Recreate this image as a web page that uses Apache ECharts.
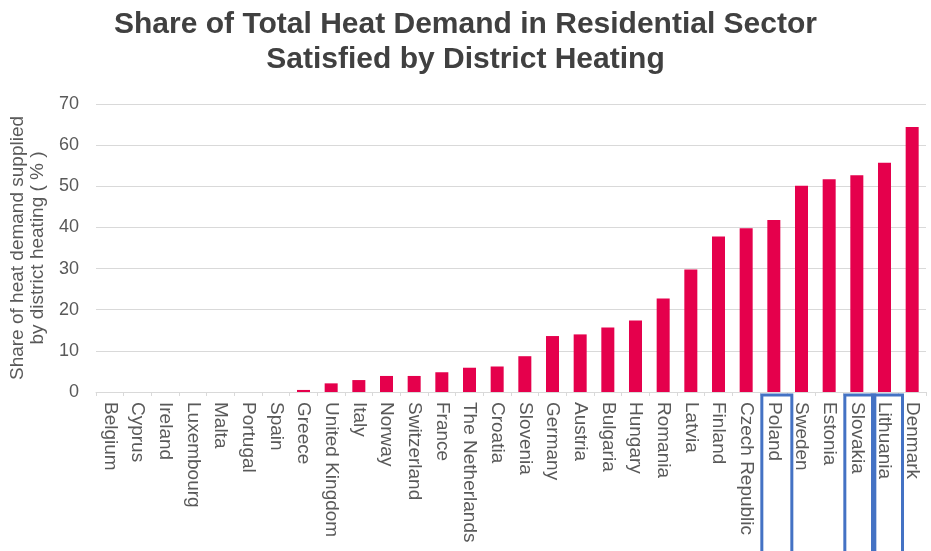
<!DOCTYPE html>
<html>
<head>
<meta charset="utf-8">
<script src="https://cdn.jsdelivr.net/npm/echarts@6/dist/echarts.min.js"></script>
<style>
html,body{margin:0;padding:0;background:#fff;}
#chart{width:931px;height:551px;}
</style>
</head>
<body>
<div id="chart"></div>
<script>
var titleText = 'Share of Total Heat Demand in Residential Sector\nSatisfied by District Heating';
var yAxisName = 'Share of heat demand supplied\nby district heating ( % )';
var countries = ['Belgium','Cyprus','Ireland','Luxembourg','Malta','Portugal','Spain','Greece','United Kingdom','Italy','Norway','Switzerland','France','The Netherlands','Croatia','Slovenia','Germany','Austria','Bulgaria','Hungary','Romania','Latvia','Finland','Czech Republic','Poland','Sweden','Estonia','Slovakia','Lithuania','Denmark'];
var shares = [0,0,0,0,0,0,0,0.5,2.1,2.9,3.9,3.9,4.8,5.9,6.2,8.7,13.6,14.0,15.7,17.4,22.7,29.8,37.8,39.8,41.8,50.1,51.7,52.7,55.7,64.4];
var yTicks = [0,10,20,30,40,50,60,70];
var highlighted = ['Poland','Slovakia','Lithuania'];

var chart = echarts.init(document.getElementById('chart'), null, {renderer:'canvas'});
var option = {
  animation: false,
  backgroundColor: '#ffffff',
  title: {
    text: titleText,
    left: 'center',
    top: 2,
    textStyle: {fontFamily: 'Liberation Sans, Arial, sans-serif', fontSize: 30, fontWeight: 'bold', color: '#404040', lineHeight: 35}
  },
  grid: {left: 96, right: 5, top: 104, bottom: 159, containLabel: false},
  xAxis: {
    type: 'category',
    data: countries,
    axisLine: {lineStyle: {color: '#d9d9d9', width: 1}},
    axisTick: {show: true, length: 4, lineStyle: {color: '#d9d9d9'}},
    axisLabel: {rotate: -90, interval: 0, margin: 10, fontSize: 19, color: '#595959', fontFamily: 'Liberation Sans, Arial, sans-serif'}
  },
  yAxis: {
    type: 'value',
    min: yTicks[0],
    max: yTicks[yTicks.length-1],
    interval: yTicks[1]-yTicks[0],
    name: yAxisName,
    nameLocation: 'middle',
    nameRotate: 90,
    nameGap: 48,
    nameTextStyle: {fontSize: 19, color: '#595959', lineHeight: 20, fontFamily: 'Liberation Sans, Arial, sans-serif'},
    axisLine: {show: false},
    axisTick: {show: false},
    axisLabel: {margin: 17, fontSize: 18, color: '#595959', fontFamily: 'Liberation Sans, Arial, sans-serif'},
    splitLine: {lineStyle: {color: '#d9d9d9', width: 1}}
  },
  series: [{
    type: 'bar',
    data: shares,
    barWidth: '47%',
    itemStyle: {color: '#E5004C'}
  }]
};
chart.setOption(option);

var boxes = highlighted.map(function(name){
  var cx = chart.convertToPixel({xAxisIndex: 0}, name);
  var y0 = chart.convertToPixel({yAxisIndex: 0}, 0);
  return {
    type: 'rect',
    shape: {x: cx - 12, y: y0 + 3, width: 30, height: 200},
    style: {fill: 'none', stroke: '#4472C4', lineWidth: 3},
    z: 100
  };
});
chart.setOption({graphic: boxes});
</script>
</body>
</html>
